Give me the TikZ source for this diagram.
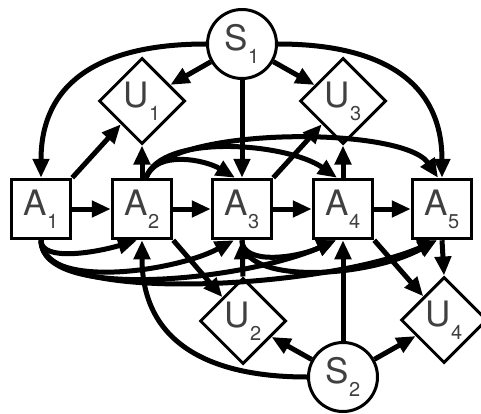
\documentclass[tikz,border=0pt]{standalone}
\usepackage{fontspec}
\setmainfont{TeX Gyre Heros}
\usetikzlibrary{arrows.meta}
\usetikzlibrary{shapes.geometric}
\tikzset{
  act/.style={draw, line width=3.5pt, minimum size=59pt, inner sep=0pt, text=black!75},
  unc/.style={diamond, draw, line width=3pt, minimum size=86pt, inner sep=0pt, text=black!75},
  st/.style={circle, draw, line width=3pt, minimum size=69pt, inner sep=0pt, text=black!75},
  arr/.style={->, line width=5pt}
}
\newcommand{\lbl}[2]{\fontsize{35}{35}\selectfont #1\raisebox{-13pt}{\fontsize{20}{20}\selectfont #2}}

\begin{document}
\begin{tikzpicture}[x=1pt, y=1pt, >={Triangle[length=19pt,width=16pt]}]
\useasboundingbox (0,0) rectangle (481,-414);
% actions
\node[act] (A1) at (41,-209) {\lbl{A}{1}};
\node[act] (A2) at (142,-209) {\lbl{A}{2}};
\node[act] (A3) at (242,-209) {\lbl{A}{3}};
\node[act] (A4) at (343,-209) {\lbl{A}{4}};
\node[act] (A5) at (442,-209) {\lbl{A}{5}};
% states and uncertainties
\node[st] (S1) at (242,-44) {\lbl{S}{1}};
\node[st] (S2) at (343,-377) {\lbl{S}{2}};
\node[unc] (U1) at (142,-101) {\lbl{U}{1}};
\node[unc] (U3) at (343,-101) {\lbl{U}{3}};
\node[unc] (U2) at (243,-321) {\lbl{U}{2}};
\node[unc] (U4) at (444,-320) {\lbl{U}{4}};

\foreach \i/\j in {1/2,2/3,3/4,4/5}
  \draw[arr] (A\i) -- (A\j);

% from S1
\draw[arr] (S1) -- (U1);
\draw[arr] (S1) -- (U3);
\draw[arr] (S1) -- (A3);
\draw[arr] (S1.west) to[out=180, in=90, looseness=1.2] (A1.north);
\draw[arr] (S1.east) to[out=0, in=90, looseness=1.2] (A5.north);
\draw[arr] (A1.north east) -- (U1);
\draw[arr] (A2.north) -- (U1.south);
\draw[arr] (A3.north east) -- (U3);
\draw[arr] (A4.north) -- (U3.south);

% arcs over the top
\draw[arr] ([xshift=4pt]A2.north) .. controls +(10,28) and +(-30,18) .. ([xshift=-7pt]A3.north);
\draw[arr] ([xshift=4pt]A2.north) .. controls +(15,45) and +(-50,35) .. ([xshift=-6pt]A4.north);
\draw[arr] ([xshift=4pt]A2.north) .. controls +(20,52) and +(-35,52) .. ([xshift=-4pt]A5.north);

% arcs underneath
\draw[arr] (A1.south) .. controls +(0,-22) and +(-40,-12) .. ([xshift=-5pt]A2.south);
\draw[arr] (A1.south) .. controls +(0,-50) and +(-60,-32) .. ([xshift=-8pt]A3.south);
\draw[arr] (A1.south) .. controls +(0,-62) and +(-90,-40) .. ([xshift=-7pt]A4.south);
\draw[arr] (A1.south) .. controls +(0,-66) and +(-110,-48) .. ([xshift=-5pt]A5.south);
\draw[arr] (A3.south) .. controls +(0,-25) and +(-40,-18) .. ([xshift=-7pt]A4.south);
\draw[arr] (A3.south) .. controls +(0,-45) and +(-70,-38) .. ([xshift=-5pt]A5.south);

% from S2
\draw[arr] (A2.south east) -- (U2);
\draw[arr] (U2.north) -- (A3.south);
\draw[arr] (A4.south east) -- (U4);
\draw[arr] (A5.south) -- (U4.north);
\draw[arr] (S2) -- (U2);
\draw[arr] (S2) -- (U4);
\draw[arr] (S2) -- (A4);
\draw[arr] (S2.west) to[out=180, in=-90, looseness=1.2] (A2.south);
\end{tikzpicture}
\end{document}
